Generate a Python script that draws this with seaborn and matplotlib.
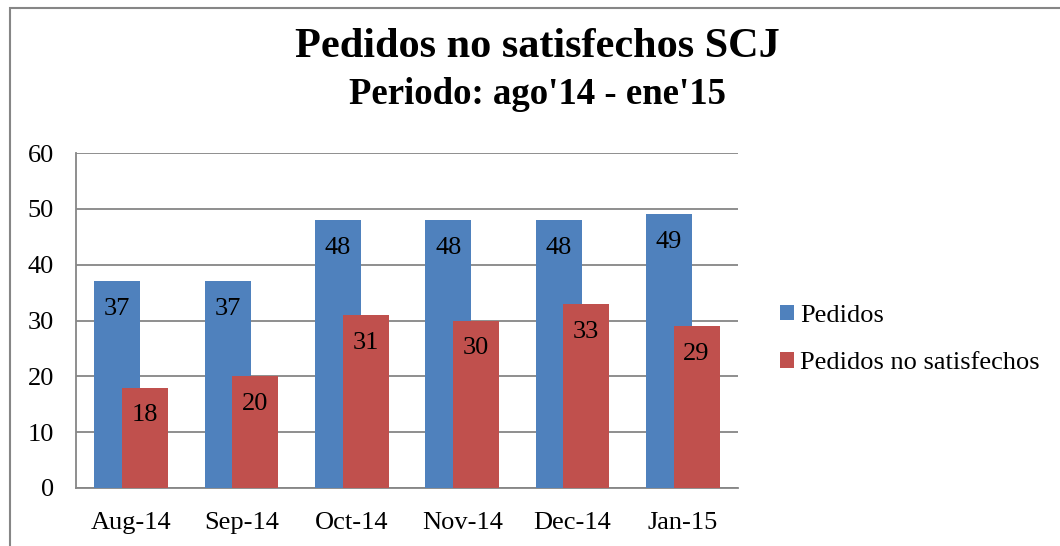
import matplotlib
matplotlib.use("Agg")
import matplotlib.pyplot as plt
import seaborn as sns
import pandas as pd
from matplotlib.patches import Rectangle

months = ["Aug-14", "Sep-14", "Oct-14", "Nov-14", "Dec-14", "Jan-15"]
pedidos = [37, 37, 48, 48, 48, 49]
no_satisfechos = [18, 20, 31, 30, 33, 29]
series_names = ["Pedidos", "Pedidos no satisfechos"]
colors = ["#4F81BD", "#C0504D"]

sns.set_theme(style="white")
plt.rcParams["font.family"] = ["Liberation Serif", "DejaVu Serif"]
plt.rcParams["text.color"] = "black"
plt.rcParams["xtick.color"] = "black"
plt.rcParams["ytick.color"] = "black"

df = pd.DataFrame({
    "mes": months * 2,
    "valor": pedidos + no_satisfechos,
    "serie": [series_names[0]] * len(months) + [series_names[1]] * len(months),
})

W, H = 1060, 546
fig = plt.figure(figsize=(W / 100, H / 100), dpi=100)
ax = fig.add_axes([76 / W, 58 / H, (738 - 76) / W, (488 - 153) / H])

sns.barplot(data=df, x="mes", y="valor", hue="serie", order=months,
            hue_order=series_names, palette=colors, ax=ax, saturation=1,
            legend=False, zorder=3)

# Excel-style overlapping clustered bars
bw = 0.417
off = 0.125
for p in ax.patches:
    c = p.get_x() + p.get_width() / 2
    cat = round(c)
    sign = -1 if c < cat else 1
    newc = cat + sign * off
    p.set_width(bw)
    p.set_x(newc - bw / 2)
    p.set_edgecolor("none")
    p.set_zorder(3 if sign < 0 else 4)

# data labels
for p in ax.patches:
    h = p.get_height()
    if h <= 0:
        continue
    ax.text(p.get_x() + p.get_width() / 2, h - 5.0, f"{int(round(h))}",
            ha="center", va="center", fontsize=19, color="black", zorder=6)

ax.set_xlim(-0.5, len(months) - 0.5)
ax.set_ylim(0, 60)
ax.set_yticks(range(0, 61, 10))
ax.yaxis.grid(True, color="#868686", linewidth=1.3, zorder=0)
ax.set_axisbelow(True)
for s in ["top", "right"]:
    ax.spines[s].set_visible(False)
for s in ["left", "bottom"]:
    ax.spines[s].set_color("#868686")
    ax.spines[s].set_linewidth(1.3)
ax.tick_params(axis="y", length=0, pad=16, labelsize=19)
ax.tick_params(axis="x", length=0, pad=17, labelsize=19)
ax.set_xlabel("")
ax.set_ylabel("")

# legend
handles = [Rectangle((0, 0), 1, 1, facecolor=c, edgecolor="none") for c in colors]
fig.legend(handles, series_names, loc="center left",
           bbox_to_anchor=(780 / W, 1 - 339.5 / H), frameon=False,
           fontsize=19, handlelength=0.53, handleheight=0.53,
           handletextpad=0.22, labelspacing=0.95, borderpad=0, borderaxespad=0)

# titles
fig.text(537 / W, 1 - 47 / H, "Pedidos no satisfechos SCJ", ha="center",
         va="center", fontsize=30.4, fontweight="bold")
fig.text(537 / W, 1 - 95 / H, "Periodo: ago'14 - ene'15", ha="center",
         va="center", fontsize=26.5, fontweight="bold")

# chart border (left and top visible)
fig.add_artist(Rectangle((9.5 / W, -0.1), 1.2, 1 - 7.5 / H + 0.1,
                         transform=fig.transFigure, fill=False,
                         edgecolor="#868686", linewidth=1.5))

fig.savefig("out.png", dpi=100)
